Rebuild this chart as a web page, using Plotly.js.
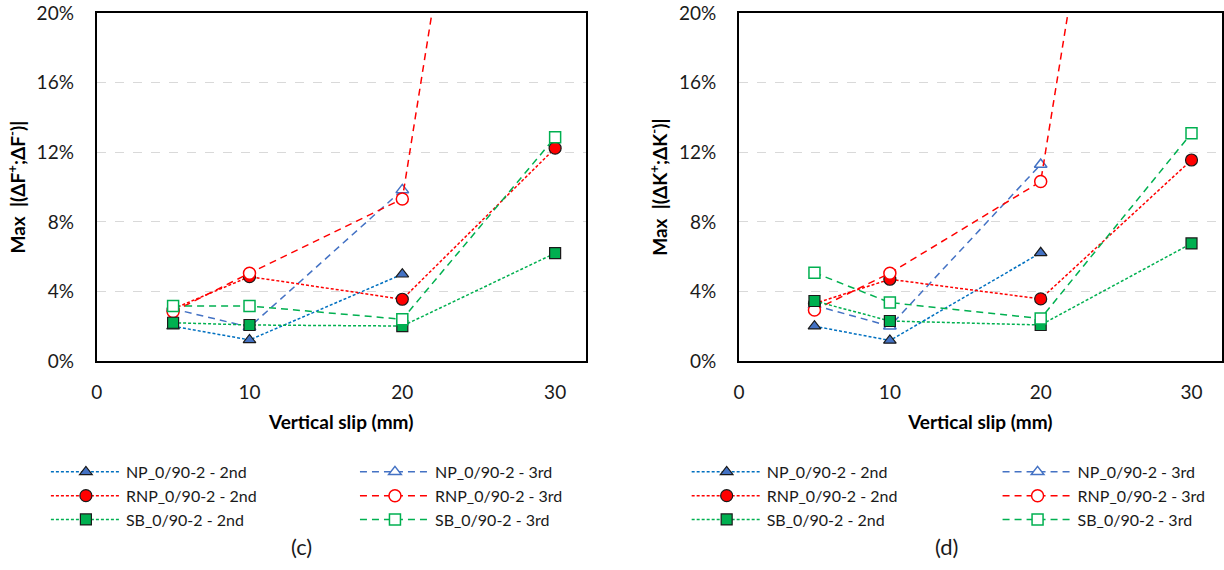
<!DOCTYPE html>
<html>
<head>
<meta charset="utf-8">
<script src="https://cdn.plot.ly/plotly-3.0.1.min.js"></script>
<style>html,body{margin:0;padding:0;background:#fff;}#chart{width:1224px;height:570px;}</style>
</head>
<body>
<div id="chart"></div>
<script>
// Vertical slip (mm)
const slip = [5, 10, 20, 30];
const slipNP = [5, 10, 20];

// Series names
const names = ["NP_0/90-2 - 2nd", "NP_0/90-2 - 3rd", "RNP_0/90-2 - 2nd", "RNP_0/90-2 - 3rd", "SB_0/90-2 - 2nd", "SB_0/90-2 - 3rd"];

// Panel (c): Max |(ΔF+;ΔF-)| in %
const c_NP2 = [2.0, 1.21, 4.99];
const c_NP3 = [3.0, 1.95, 9.84];
const c_RNP2 = [3.0, 4.85, 3.55, 12.24];
const c_RNP3 = [2.84, 5.05, 9.32, 64.5];
const c_SB2 = [2.2, 2.07, 2.01, 6.2];
const c_SB3 = [3.16, 3.16, 2.4, 12.87];

// Panel (d): Max |(ΔK+;ΔK-)| in %
const d_NP2 = [2.0, 1.18, 6.22];
const d_NP3 = [3.2, 2.0, 11.3];
const d_RNP2 = [3.3, 4.7, 3.57, 11.56];
const d_RNP3 = [2.93, 5.05, 10.32, 63.9];
const d_SB2 = [3.45, 2.3, 2.07, 6.76];
const d_SB3 = [5.08, 3.36, 2.44, 13.1];

const yTicks = [0, 4, 8, 12, 16, 20];
const xTicks = [0, 10, 20, 30];

const BLUE_L = '#0070C0', BLUE = '#4472C4', RED = '#FF0000', GREEN = '#00B050';
const DOT = '3px,2px', DASH = '7px,5px';

function styles() {
  return [
    {line: {color: BLUE_L, dash: DOT, width: 1.5}, marker: {symbol: 'triangle-up', size: 11, color: BLUE, line: {color: '#1a1a1a', width: 1.2}}},
    {line: {color: BLUE, dash: DASH, width: 1.5}, marker: {symbol: 'triangle-up', size: 11, color: '#ffffff', line: {color: BLUE, width: 1.5}}},
    {line: {color: RED, dash: DOT, width: 1.5}, marker: {symbol: 'circle', size: 12, color: RED, line: {color: '#1a1a1a', width: 1.2}}},
    {line: {color: RED, dash: DASH, width: 1.5}, marker: {symbol: 'circle', size: 12, color: '#ffffff', line: {color: RED, width: 1.5}}},
    {line: {color: GREEN, dash: DOT, width: 1.5}, marker: {symbol: 'square', size: 11, color: GREEN, line: {color: '#1a1a1a', width: 1.2}}},
    {line: {color: GREEN, dash: DASH, width: 1.5}, marker: {symbol: 'square', size: 11, color: '#ffffff', line: {color: GREEN, width: 1.5}}}
  ];
}

function panel(ys, xa, ya, legA, legB) {
  const st = styles();
  return ys.map((y, i) => Object.assign({
    type: 'scatter', mode: 'lines+markers',
    x: (y.length === 3 ? slipNP : slip), y: y,
    name: names[i], xaxis: xa, yaxis: ya,
    legend: (i % 2 === 0 ? legA : legB),
    cliponaxis: true, hoverinfo: 'skip'
  }, st[i]));
}

const data = [].concat(
  panel([c_NP2, c_NP3, c_RNP2, c_RNP3, c_SB2, c_SB3], 'x', 'y', 'legend', 'legend2'),
  panel([d_NP2, d_NP3, d_RNP2, d_RNP3, d_SB2, d_SB3], 'x2', 'y2', 'legend3', 'legend4')
);

const FONT = 'Lato, "Open Sans", sans-serif';
const TXT = '#1a1a1a';

function xAxis(domain, anchor) {
  return {
    domain: domain, anchor: anchor, range: [0, 32], tickvals: xTicks, ticktext: xTicks.map(String),
    showgrid: false, zeroline: false, showline: true, mirror: true, linecolor: '#000', linewidth: 2,
    ticks: '', ticklabelstandoff: 13, tickfont: {family: FONT, size: 19, color: TXT},
    title: {text: 'Vertical slip (mm)', font: {family: FONT, size: 19, color: '#000', weight: 'bold'}, standoff: 14}
  };
}
function yAxis(domain, anchor, title) {
  return {
    domain: domain, anchor: anchor, range: [0, 20], tickvals: yTicks, ticktext: yTicks.map(v => v + '%'),
    showgrid: true, gridcolor: '#D9D9D9', griddash: 'dash', gridwidth: 1,
    zeroline: false, showline: true, mirror: true, linecolor: '#000', linewidth: 2,
    ticks: '', ticklabelstandoff: 17, tickfont: {family: FONT, size: 19, color: TXT},
    title: {text: title, font: {family: FONT, size: 19, color: '#000', weight: 'bold'}, standoff: 6}
  };
}

function leg(x) {
  return {x: x, y: 0.2018, xanchor: 'left', yanchor: 'top', orientation: 'v',
    bgcolor: 'rgba(0,0,0,0)', borderwidth: 0, itemwidth: 70,
    font: {family: FONT, size: 16, color: TXT}, tracegroupgap: 0, itemclick: false, itemdoubleclick: false};
}

const yDom = [0.3667, 0.9767];
const layout = {
  width: 1224, height: 570,
  margin: {l: 0, r: 0, t: 0, b: 0},
  paper_bgcolor: '#fff', plot_bgcolor: '#fff',
  font: {family: FONT, color: TXT},
  hovermode: false,
  xaxis: xAxis([0.0790, 0.4785], 'y'),
  yaxis: yAxis(yDom, 'x', 'Max  |(ΔF<sup>+</sup>;ΔF<sup>-</sup>)|'),
  xaxis2: xAxis([0.6038, 0.9981], 'y2'),
  yaxis2: yAxis(yDom, 'x2', 'Max  |(ΔK<sup>+</sup>;ΔK<sup>-</sup>)|'),
  legend: leg(0.0375),
  legend2: leg(0.2900),
  legend3: leg(0.5610),
  legend4: leg(0.8150),
  annotations: [
    {text: '(c)', x: 0.2465, y: 0.0409, xref: 'paper', yref: 'paper', xanchor: 'center', yanchor: 'middle', showarrow: false, font: {family: FONT, size: 22, color: TXT}},
    {text: '(d)', x: 0.7733, y: 0.0409, xref: 'paper', yref: 'paper', xanchor: 'center', yanchor: 'middle', showarrow: false, font: {family: FONT, size: 22, color: TXT}}
  ]
};

Plotly.newPlot('chart', data, layout, {displayModeBar: false, staticPlot: true});
</script>
</body>
</html>
